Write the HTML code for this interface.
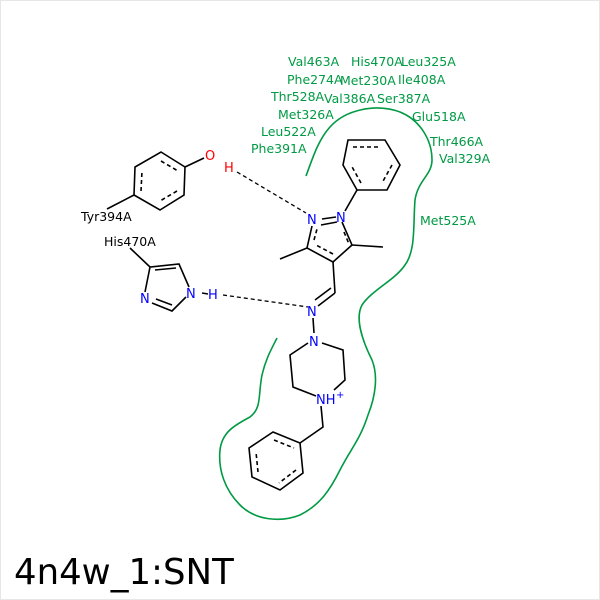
<!DOCTYPE html>
<html><head><meta charset="utf-8"><style>
html,body{margin:0;padding:0;background:#fff}
svg{display:block}
text{font-family:"DejaVu Sans","Liberation Sans",sans-serif}
</style></head><body>
<svg width="600" height="600" viewBox="0 0 600 600" xmlns="http://www.w3.org/2000/svg">
<rect x="0" y="0" width="600" height="600" fill="#fff"/>
<rect x="0.5" y="0.5" width="599" height="599" fill="none" stroke="#e6e6e6"/>
<path d="M306,176 C312,160 318,140 330,127 C345,110 375,103 400,112 C420,120 432,140 432,160 C432,175 418,180 415,200 C413,225 416,250 405,265 C395,280 372,290 362,305 C355,318 362,340 372,360 C378,375 376,395 368,415 C360,440 350,450 340,470 C330,490 320,505 300,515 C280,523 255,520 240,505 C225,490 218,470 220,450 C222,432 235,425 250,417 C262,408 258,395 262,375 C266,358 272,348 277,338" fill="none" stroke="#009a44" stroke-width="1.6"/>
<g stroke="#000" stroke-width="1.6" fill="none">
<polygon points="161,152 185,167 184,195 160,210 134,195 135,167"/>
<path d="M161,161 L178,171 M177,191 L160,201 M141,191 L142,171" stroke-dasharray="4,3"/>
<path d="M134,195 L107,209"/>
<path d="M185,167 L204,158"/>
<path d="M322,219 L336,217 M321,225 L337,222"/>
<path d="M342,222 L352,245 L333,262 L307,248 L312,226"/>
<path d="M344,232 L349,244 M333,254 L316,245 M314,240 L317,229" stroke-dasharray="4,3"/>
<path d="M307,248 L280,259 M352,245 L383,247"/>
<path d="M345,211 L357,190"/>
<polygon points="348,140 385,140 400,165 387,190 357,190 343,165"/>
<path d="M353,147 L380,147 M392,165 L382,183 M361,183 L351,165" stroke-dasharray="4,3"/>
<path d="M333,262 L335,293"/>
<path d="M335,293 L318,306 M331,288 L315,300"/>
<path d="M313,318 L314,333"/>
<path d="M322,343 L343,350 L345,380 L334,390 M316,396 L293,387 L290,355 L308,343"/>
<path d="M321,406 L323,427 L300,443"/>
<polygon points="273,432 300,443 303,473 280,490 252,477 249,448"/>
<path d="M274,440 L294,448 M296,470 L279,483 M258,472 L256,452" stroke-dasharray="4,3"/>
<path d="M130,248 L150,267 L179,264 L189,287 M186,297 L172,311 L152,303 M145,292 L150,267"/>
<path d="M155,270 L176,268 M172,305 L156,299"/>
<path d="M202,293 L208,294"/>
</g>
<g stroke="#000" stroke-width="1.3" stroke-dasharray="4,3" fill="none">
<path d="M237,172 L306,213"/>
<path d="M223,295 L308,307"/>
</g>
<g font-size="13" fill="#0000ff">
<text x="307" y="224">N</text>
<text x="336" y="222">N</text>
<text x="307" y="316">N</text>
<text x="309" y="346">N</text>
<text x="316" y="404">NH</text>
<text x="336" y="398" font-size="10">+</text>
<text x="186" y="298">N</text>
<text x="140" y="303">N</text>
<text x="208" y="299">H</text>
</g>
<text x="205" y="160" font-size="13" fill="#ff0000">O</text>
<text x="224" y="172" font-size="13" fill="#ff0000">H</text>
<g font-size="12.5" fill="#000">
<text x="81" y="221">Tyr394A</text>
<text x="104" y="246">His470A</text>
</g>
<g font-size="12.5" fill="#009a44">
<text x="288" y="66">Val463A</text>
<text x="351" y="66">His470A</text>
<text x="401" y="66">Leu325A</text>
<text x="287" y="84">Phe274A</text>
<text x="340" y="85">Met230A</text>
<text x="398" y="84">Ile408A</text>
<text x="271" y="101">Thr528A</text>
<text x="324" y="103">Val386A</text>
<text x="377" y="103">Ser387A</text>
<text x="278" y="119">Met326A</text>
<text x="412" y="121">Glu518A</text>
<text x="261" y="136">Leu522A</text>
<text x="251" y="153">Phe391A</text>
<text x="430" y="146">Thr466A</text>
<text x="439" y="163">Val329A</text>
<text x="420" y="225">Met525A</text>
</g>
<text x="14" y="584" font-size="35.5" fill="#000">4n4w_1:SNT</text>
</svg>
</body></html>
